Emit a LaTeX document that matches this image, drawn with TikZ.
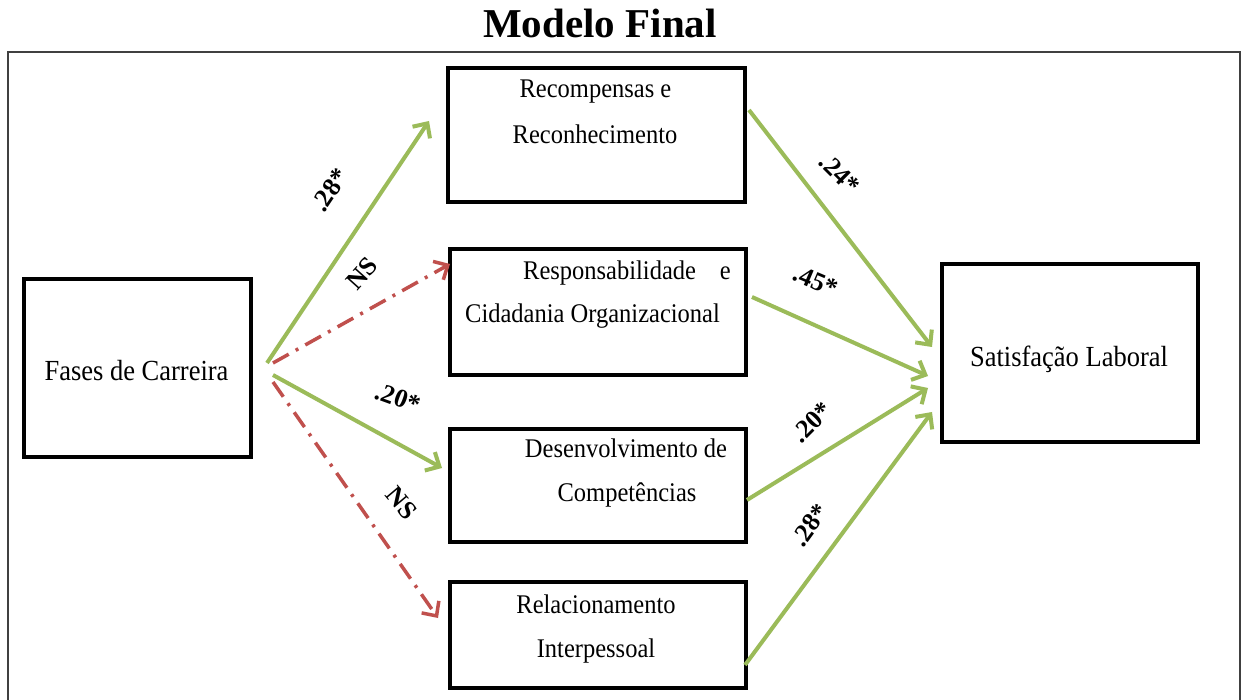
\documentclass[tikz,border=0pt]{standalone}
\usepackage{fontspec}
\setmainfont{Liberation Serif}
\usetikzlibrary{arrows.meta}
\definecolor{grn}{HTML}{9BBB59}
\definecolor{rd}{HTML}{C0504D}
\definecolor{framegray}{HTML}{404040}
\begin{document}
\begin{tikzpicture}[x=1pt,y=-1pt,
  box/.style={draw=black,line width=3.5pt,rectangle,inner sep=0pt},
  txt/.style={font=\fontsize{24.5}{28}\selectfont,inner sep=0pt,yscale=1.1},
  bigtxt/.style={font=\fontsize{26.5}{30}\selectfont,inner sep=0pt,yscale=1.1},
  coef/.style={font=\fontsize{26}{30}\selectfont\bfseries,inner sep=0pt},
  sigarrow/.style={draw=grn,line width=4pt,-{Straight Barb[length=11pt,width=21pt]}},
  nsarrow/.style={draw=rd,line width=3.5pt,dash pattern=on 18pt off 8pt on 3pt off 8pt,-{Straight Barb[length=11pt,width=21pt]}},
]
\useasboundingbox (0,0) rectangle (1243,700);
\fill[white] (0,0) rectangle (1243,700);
% outer frame
\draw[framegray,line width=1.3pt] (8,705) -- (8,52) -- (1240,52) -- (1240,705);
% title
\node[font=\fontsize{41}{46}\selectfont\bfseries,inner sep=0pt,anchor=base] (title) at (600,38) {Modelo Final};

% boxes
\node[box,minimum width=227pt,minimum height=178pt] (fases) at (137.5,368) {};
\node[box,minimum width=297pt,minimum height=134pt] (rec) at (596.5,135) {};
\node[box,minimum width=296pt,minimum height=126pt] (resp) at (598,312) {};
\node[box,minimum width=296pt,minimum height=113pt] (des) at (598,485.5) {};
\node[box,minimum width=296pt,minimum height=106pt] (rel) at (598,635) {};
\node[box,minimum width=256pt,minimum height=178pt] (sat) at (1070,353) {};

% texts
\node[bigtxt,anchor=base] (tfases) at (136.5,381) {Fases de Carreira};
\node[bigtxt,anchor=base] (tsat) at (1069,367) {Satisfação Laboral};
\node[txt,anchor=base] (trec1) at (595.5,98) {Recompensas e};
\node[txt,anchor=base] (trec2) at (595,144) {Reconhecimento};
\node[txt,anchor=base west] (tresp1) at (523,280) {Responsabilidade};
\node[txt,anchor=base east] (tresp1e) at (731,280) {e};
\node[txt,anchor=base west] (tresp2) at (465,323) {Cidadania Organizacional};
\node[txt,anchor=base] (tdes1) at (626,458) {Desenvolvimento de};
\node[txt,anchor=base] (tdes2) at (627,502) {Competências};
\node[txt,anchor=base] (trel1) at (596,613) {Relacionamento};
\node[txt,anchor=base] (trel2) at (596,657) {Interpessoal};

% connector end points
\coordinate (f1) at (267,363);
\coordinate (f2) at (273,363);
\coordinate (f3) at (273,375);
\coordinate (f4) at (273,382);
\coordinate (e1) at (429,121);
\coordinate (e2) at (450,264);
\coordinate (e3) at (442,468);
\coordinate (e4) at (438,618);
\coordinate (s1) at (749,110);
\coordinate (s2) at (752,297);
\coordinate (s3) at (747,500);
\coordinate (s4) at (745,665);
\coordinate (t1) at (932,347);
\coordinate (t2) at (928,376);
\coordinate (t3) at (928,388);
\coordinate (t4) at (932,412);

% connectors
\draw[sigarrow] (f1) -- (e1);
\draw[nsarrow] (f2) -- (e2);
\draw[sigarrow] (f3) -- (e3);
\draw[nsarrow] (f4) -- (e4);
\draw[sigarrow] (s1) -- (t1);
\draw[sigarrow] (s2) -- (t2);
\draw[sigarrow] (s3) -- (t3);
\draw[sigarrow] (s4) -- (t4);

% coefficients
\node[coef,rotate=56] (c1) at (330,190) {.28*};
\node[coef,rotate=48] (c2) at (362,273) {NS};
\node[coef,rotate=-20] (c3) at (398,398) {.20*};
\node[coef,rotate=-50] (c4) at (402,503) {NS};
\node[coef,rotate=-45] (c5) at (840,174) {.24*};
\node[coef,rotate=-23] (c6) at (816,281) {.45*};
\node[coef,rotate=45] (c7) at (812,422) {.20*};
\node[coef,rotate=54] (c8) at (810,525) {.28*};
\end{tikzpicture}
\end{document}
